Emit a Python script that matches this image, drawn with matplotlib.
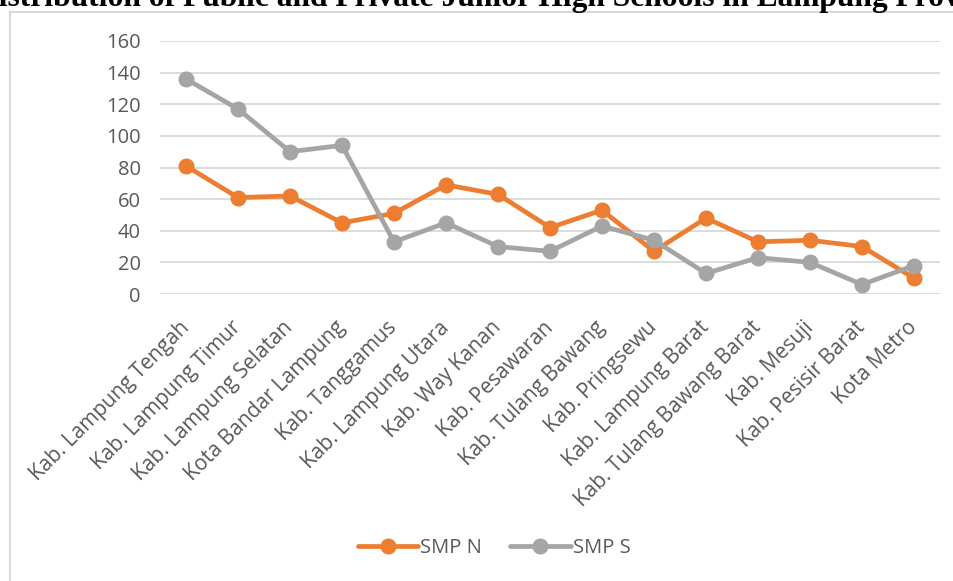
import matplotlib
matplotlib.use("Agg")
import matplotlib.pyplot as plt
from matplotlib.lines import Line2D

categories = ["Kab. Lampung Tengah", "Kab. Lampung Timur", "Kab. Lampung Selatan",
              "Kota Bandar Lampung", "Kab. Tanggamus", "Kab. Lampung Utara",
              "Kab. Way Kanan", "Kab. Pesawaran", "Kab. Tulang Bawang",
              "Kab. Pringsewu", "Kab. Lampung Barat", "Kab. Tulang Bawang Barat",
              "Kab. Mesuji", "Kab. Pesisir Barat", "Kota Metro"]
smp_n = [81, 61, 62, 45, 51, 69, 63, 42, 53, 27, 48, 33, 34, 30, 10]
smp_s = [136, 117, 90, 94, 33, 45, 30, 27, 43, 34, 13, 23, 20, 6, 18]
y_ticks = [0, 20, 40, 60, 80, 100, 120, 140, 160]
title = "Distribution of Public and Private Junior High Schools in Lampung Province"

W, H = 954, 581
fig = plt.figure(figsize=(W / 100, H / 100), dpi=100)
font = ["Open Sans", "DejaVu Sans"]
tcol = "#595959"
fs = 14.5

ax = fig.add_axes([160 / W, 1 - 294 / H, 780 / W, 253 / H])
x = list(range(len(categories)))
ax.plot(x, smp_n, color="#ED7D31", lw=3.4, marker="o", ms=10.5, label="SMP N",
        solid_capstyle="round", solid_joinstyle="round")
ax.plot(x, smp_s, color="#A5A5A5", lw=3.4, marker="o", ms=10.5, label="SMP S",
        solid_capstyle="round", solid_joinstyle="round")
ax.set_xlim(-0.5, len(categories) - 0.5)
ax.set_ylim(0, 160)
ax.set_yticks(y_ticks)
ax.set_yticklabels([str(v) for v in y_ticks], family=font, fontsize=fs, color=tcol)
ax.set_xticks(x)
ax.set_xticklabels(categories, family=font, fontsize=15, color=tcol,
                   rotation=45, ha="right", va="center", rotation_mode="anchor")
ax.tick_params(axis="x", length=0, pad=22)
ax.tick_params(axis="y", length=0, pad=14)
ax.grid(axis="y", color="#D9D9D9", lw=1.3)
ax.set_axisbelow(True)
for s in ax.spines.values():
    s.set_visible(False)

leg = fig.legend(loc="center", bbox_to_anchor=(494 / W, 1 - 548 / H), ncol=2,
                 frameon=False, prop={"family": font, "size": fs}, handlelength=3.0,
                 columnspacing=1.4, handletextpad=0.1)
for t in leg.get_texts():
    t.set_color(tcol)

# chart border
fig.add_artist(Line2D([10 / W, 10 / W], [0, 1 - 12 / H], color="#D9D9D9", lw=1.5,
                      transform=fig.transFigure))
fig.add_artist(Line2D([10 / W, 1.0], [1 - 12 / H, 1 - 12 / H], color="#D9D9D9", lw=1.5,
                      transform=fig.transFigure))

# title (cropped at the edges, as in the reference)
tfont = "Liberation Serif"
fig.canvas.draw()
r = fig.canvas.get_renderer()
probe = fig.text(0, 0, "istribution of Public and Private Junior High Schools in Lampung Pro",
                 family=tfont, weight="bold", fontsize=20)
wpx = probe.get_window_extent(r).width
probe.remove()
tsize = 20 * 945 / wpx
probeD = fig.text(0, 0, "D", family=tfont, weight="bold", fontsize=tsize)
wD = probeD.get_window_extent(r).width
probeD.remove()
fig.text(-(wD + 1) / W, 1 - 6 / H, title, family=tfont, weight="bold",
         fontsize=tsize, color="black", ha="left", va="baseline")

fig.savefig("out.png", dpi=100)
